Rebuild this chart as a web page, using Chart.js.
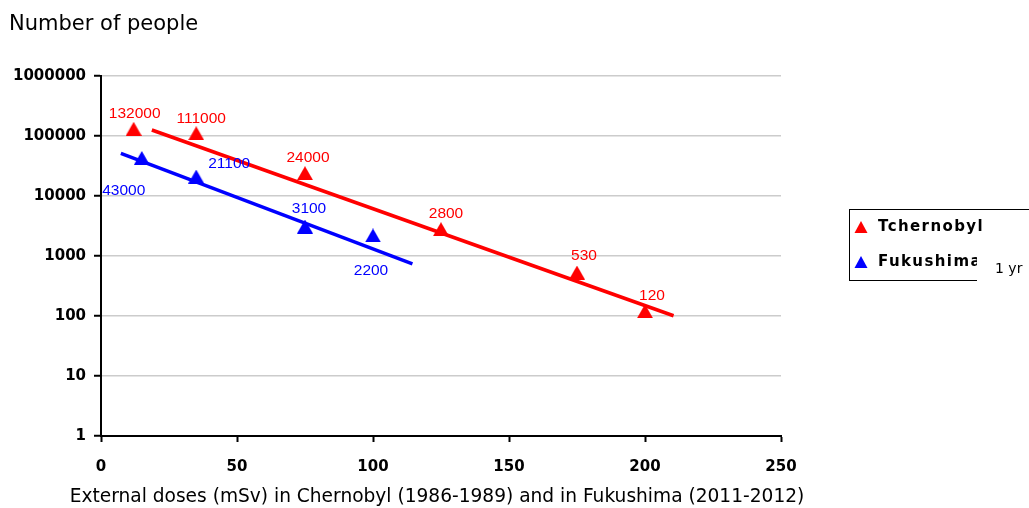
<!DOCTYPE html>
<html>
<head>
<meta charset="utf-8">
<script src="https://cdn.jsdelivr.net/npm/chart.js@4/dist/chart.umd.min.js"></script>
<style>
  html, body { margin: 0; padding: 0; background: #fff; }
  #wrap { width: 1029px; height: 508px; }
</style>
</head>
<body>
<div id="wrap"><canvas id="chart" width="1029" height="508"></canvas></div>
<script>
// doses (mSv) and number of people
const chernobylDoses = [12, 35, 75, 125, 175, 200];
const chernobylPeople = [132000, 111000, 24000, 2800, 530, 120];
const fukushimaDoses = [15, 35, 75, 100];
const fukushimaPeople = [43000, 21100, 3100, 2200];

// trend lines (start / end)
const chernobylTrendX = [18.7, 210.5];
const chernobylTrendY = [126000, 101];
const fukushimaTrendX = [7.3, 114.5];
const fukushimaTrendY = [51500, 736];

const yTicks = [1, 10, 100, 1000, 10000, 100000, 1000000];
const xTicks = [0, 50, 100, 150, 200, 250];
const seriesNames = ["Tchernobyl", "Fukushima"];

// where each value label sits relative to its marker (dx, dy)
const chernobylLabelOffsets = [[1, -15], [5, -15], [3, -15], [5, -15], [7, -17], [7, -16]];
const fukushimaLabelOffsets = [[-18, 33], [33, -13], [4, -18], [-2, 35]];

const RED = "#ff0000";
const BLUE = "#0000ff";

const toPoints = (xs, ys) => xs.map((x, i) => ({ x, y: ys[i] }));

function triangle(ctx, x, y, w, h, color) {
  ctx.beginPath();
  ctx.moveTo(x, y - h / 2);
  ctx.lineTo(x + w / 2, y + h / 2);
  ctx.lineTo(x - w / 2, y + h / 2);
  ctx.closePath();
  ctx.fillStyle = color;
  ctx.fill();
}

// centred triangle marker, like the Excel one
function marker(color) {
  const c = document.createElement("canvas");
  c.width = 16;
  c.height = 14;
  triangle(c.getContext("2d"), 8, 7, 16, 14, color);
  return c;
}

const decorPlugin = {
  id: "decor",
  afterDatasetsDraw(chart) {
    const ctx = chart.ctx;
    ctx.save();
    ctx.font = "15.5px 'Liberation Sans', Arial, sans-serif";
    ctx.textAlign = "center";
    ctx.textBaseline = "middle";
    const groups = [
      { idx: 2, vals: chernobylPeople, offs: chernobylLabelOffsets, color: RED },
      { idx: 3, vals: fukushimaPeople, offs: fukushimaLabelOffsets, color: BLUE },
    ];
    groups.forEach(g => {
      const meta = chart.getDatasetMeta(g.idx);
      ctx.fillStyle = g.color;
      meta.data.forEach((pt, i) => {
        ctx.fillText(String(g.vals[i]), pt.x + g.offs[i][0], pt.y + g.offs[i][1]);
      });
    });
    ctx.restore();
  },
  afterDraw(chart) {
    const ctx = chart.ctx;
    ctx.save();
    // axis titles
    ctx.fillStyle = "#000";
    ctx.textBaseline = "middle";
    ctx.textAlign = "left";
    ctx.font = "21px 'DejaVu Sans', sans-serif";
    ctx.fillText("Number of people", 9, 25);
    ctx.textAlign = "center";
    ctx.font = "18.6px 'DejaVu Sans', sans-serif";
    ctx.fillText("External doses (mSv) in Chernobyl (1986-1989) and in Fukushima (2011-2012)", 437, 497);

    // legend
    ctx.strokeStyle = "#000";
    ctx.lineWidth = 1;
    ctx.strokeRect(849.5, 209.5, 200, 71);
    ctx.textAlign = "left";
    ctx.font = "bold 15px 'DejaVu Sans', sans-serif";
    ctx.letterSpacing = "1.4px";
    triangle(ctx, 861, 227, 13, 12, RED);
    ctx.fillStyle = "#000";
    ctx.fillText(seriesNames[0], 878, 227);
    triangle(ctx, 861, 262, 13, 12, BLUE);
    ctx.fillStyle = "#000";
    ctx.fillText(seriesNames[1], 878, 262);
    ctx.letterSpacing = "0px";

    // "1 yr" box over the legend corner
    ctx.fillStyle = "#fff";
    ctx.fillRect(977, 248, 60, 40);
    ctx.fillStyle = "#000";
    ctx.font = "14px 'DejaVu Sans', sans-serif";
    ctx.fillText("1 yr", 995, 269);
    ctx.restore();
  }
};

new Chart(document.getElementById("chart"), {
  type: "scatter",
  data: {
    datasets: [
      {
        label: "trend " + seriesNames[0],
        type: "line",
        data: toPoints(chernobylTrendX, chernobylTrendY),
        borderColor: RED,
        borderWidth: 3.5,
        pointRadius: 0,
        showLine: true,
        order: 2,
      },
      {
        label: "trend " + seriesNames[1],
        type: "line",
        data: toPoints(fukushimaTrendX, fukushimaTrendY),
        borderColor: BLUE,
        borderWidth: 3.5,
        pointRadius: 0,
        showLine: true,
        order: 2,
      },
      {
        label: seriesNames[0],
        data: toPoints(chernobylDoses, chernobylPeople),
        pointStyle: marker(RED),
        pointRadius: 8,
        backgroundColor: RED,
        borderColor: RED,
        order: 1,
      },
      {
        label: seriesNames[1],
        data: toPoints(fukushimaDoses, fukushimaPeople),
        pointStyle: marker(BLUE),
        pointRadius: 8,
        backgroundColor: BLUE,
        borderColor: BLUE,
        order: 1,
      },
    ],
  },
  options: {
    responsive: false,
    devicePixelRatio: 1,
    animation: false,
    layout: { padding: { top: 76, right: 248, left: 0, bottom: 0 } },
    plugins: {
      legend: { display: false },
      tooltip: { enabled: false },
    },
    scales: {
      x: {
        type: "linear",
        min: 0,
        max: 250,
        afterBuildTicks: s => { s.ticks = xTicks.map(v => ({ value: v })); },
        afterFit: s => { s.height = 72; },
        grid: { drawOnChartArea: false, tickLength: 6, tickColor: "#000", tickWidth: 2 },
        border: { color: "#000", width: 2 },
        ticks: {
          color: "#000",
          padding: 16,
          font: { family: "'DejaVu Sans', sans-serif", weight: "bold", size: 15 },
        },
      },
      y: {
        type: "logarithmic",
        min: 1,
        max: 1000000,
        afterBuildTicks: s => { s.ticks = yTicks.map(v => ({ value: v })); },
        afterFit: s => { s.width = 101; },
        grid: { color: "#cccccc", lineWidth: 1.5, tickLength: 7, tickColor: "#000", tickWidth: 2 },
        border: { color: "#000", width: 2 },
        ticks: {
          color: "#000",
          padding: 8,
          callback: v => String(v),
          font: { family: "'DejaVu Sans', sans-serif", weight: "bold", size: 15 },
        },
      },
    },
  },
  plugins: [decorPlugin],
});
</script>
</body>
</html>
